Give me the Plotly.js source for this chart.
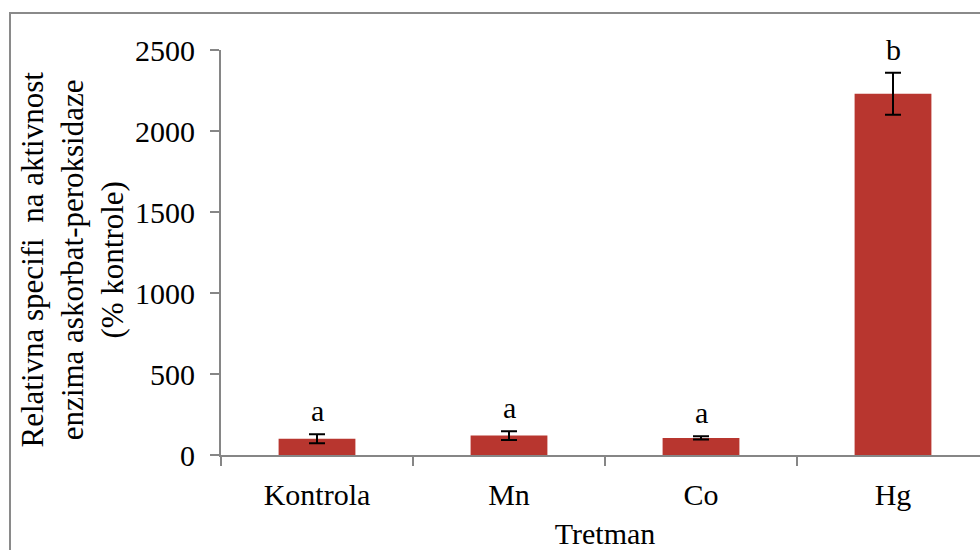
<!DOCTYPE html>
<html>
<head>
<meta charset="utf-8">
<script src="https://cdn.plot.ly/plotly-3.0.1.min.js"></script>
<style>
  html, body { margin: 0; padding: 0; width: 980px; height: 550px; overflow: hidden; background: #fff; }
  #frame { position: absolute; left: 9px; top: 12px; width: 1000px; height: 600px; border: 2px solid #8a8a8a; box-sizing: border-box; pointer-events: none; z-index: 5; }
  #chart { position: absolute; left: 0; top: 0; width: 992px; height: 550px; }
</style>
</head>
<body>
<div id="chart"></div>
<div id="frame"></div>
<script>
const categories = ["Kontrola", "Mn", "Co", "Hg"];
const values = [100, 120, 105, 2230];
const errors = [28, 27, 10, 130];
const letters = ["a", "a", "a", "b"];
const yTicks = [0, 500, 1000, 1500, 2000, 2500];
const yTitleLines = ["Relativna specifi&nbsp; na aktivnost", "enzima askorbat-peroksidaze", "(% kontrole)"];
const xTitle = "Tretman";

const FONT = "'Liberation Serif', 'Times New Roman', serif";

const trace = {
  type: "bar",
  x: categories,
  y: values,
  width: 0.4,
  marker: { color: "#b8362f", line: { width: 0 } },
  error_y: { type: "data", array: errors, visible: true, color: "#000", thickness: 2, width: 8 },
  hoverinfo: "skip"
};

const annotations = categories.map((c, i) => ({
  x: c, y: values[i] + errors[i], xref: "x", yref: "y",
  text: letters[i], showarrow: false, yanchor: "bottom", yshift: 5,
  font: { family: FONT, size: 30, color: "#000" }
}));
annotations.push({
  xref: "paper", yref: "paper", x: 0, y: 0.5, xshift: -149, yshift: -7,
  text: yTitleLines.join("<br>"), textangle: -90, showarrow: false,
  xanchor: "center", yanchor: "middle", align: "center",
  font: { family: FONT, size: 31, color: "#000" }
});

const layout = {
  width: 992, height: 550,
  margin: { l: 221, r: 3, t: 50, b: 95 },
  paper_bgcolor: "rgba(0,0,0,0)", plot_bgcolor: "rgba(0,0,0,0)",
  showlegend: false,
  font: { family: FONT, size: 30, color: "#000" },
  xaxis: {
    type: "category",
    showline: true, linecolor: "#868686", linewidth: 2,
    ticks: "outside", tickson: "boundaries", ticklen: 9, tickcolor: "#868686", tickwidth: 2,
    showgrid: false, zeroline: false,
    tickfont: { family: FONT, size: 30, color: "#000" },
    ticklabelstandoff: 12,
    title: { text: xTitle, font: { family: FONT, size: 30, color: "#000" }, standoff: 15 }
  },
  yaxis: {
    range: [0, 2500],
    tickvals: yTicks, ticktext: yTicks.map(String),
    showline: true, linecolor: "#868686", linewidth: 2,
    ticks: "outside", ticklen: 9, tickcolor: "#868686", tickwidth: 2,
    showgrid: false, zeroline: false,
    tickfont: { family: FONT, size: 30, color: "#000" },
    ticklabelstandoff: 9
  },
  annotations: annotations
};

Plotly.newPlot("chart", [trace], layout, { displayModeBar: false, staticPlot: true });
</script>
</body>
</html>
